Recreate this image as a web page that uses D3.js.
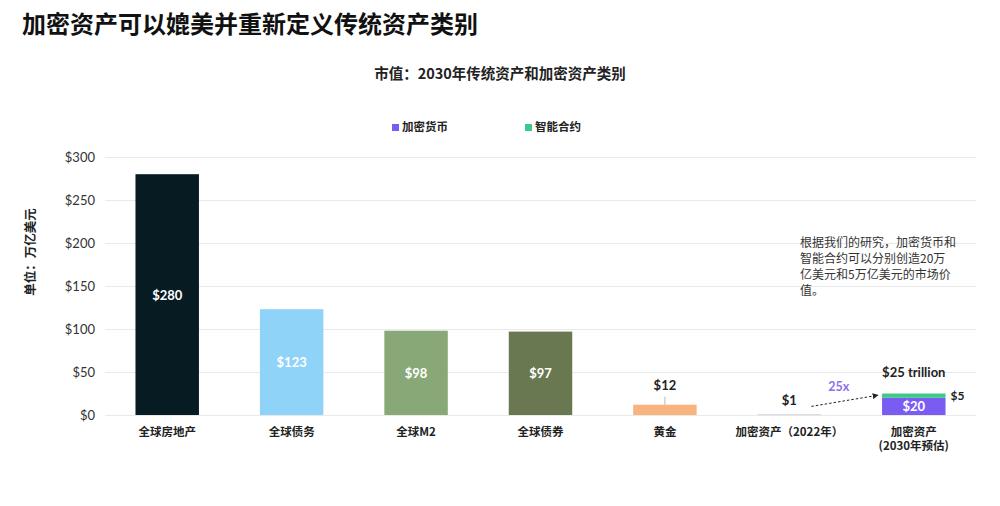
<!DOCTYPE html>
<html><head><meta charset="utf-8">
<script src="https://cdn.jsdelivr.net/npm/d3@7"></script>
<style>
body{margin:0;background:#fff;}
svg{display:block;font-family:"Noto Sans CJK SC","Noto Sans",sans-serif;}
</style></head>
<body><svg id="c" width="1000" height="506"></svg>
<script>
const categories = ["全球房地产","全球债务","全球M2","全球债券","黄金","加密资产（2022年）","加密资产|(2030年预估)"];
const values = [280,123,98,97,12,1,null];
const cryptoValues = [20];
const smartValues = [5];
const barColors = ["#061b22","#8fd3f9","#89a878","#6a7852","#f8b37f","#d6d6e0","#7b5cf2"];
const yTicks = [0,50,100,150,200,250,300];
const seriesNames = ["加密货币","智能合约"];
const seriesColors = ["#7b5cf2","#3ec98b"];

const svg = d3.select("#c");
const L=105,R=976,T=157,B=415;
const x = d3.scaleBand().domain(categories).range([L,R]).paddingInner(0.49).paddingOuter(0.245);
const y = d3.scaleLinear().domain([0,300]).range([B,T]);

// title
svg.append("text").attr("x",22).attr("y",33).attr("font-size",24).attr("font-weight",700).attr("fill","#111")
  .text("加密资产可以媲美并重新定义传统资产类别");
svg.append("text").attr("x",500).attr("y",79).attr("text-anchor","middle").attr("font-size",14.5).attr("font-weight",700).attr("fill","#222")
  .text("市值：2030年传统资产和加密资产类别");

// legend
const lg=[{x:392},{x:525}];
seriesNames.forEach((n,i)=>{
  svg.append("rect").attr("x",lg[i].x).attr("y",124).attr("width",7).attr("height",7).attr("fill",seriesColors[i]);
  svg.append("text").attr("x",lg[i].x+10).attr("y",131).attr("font-size",11.5).attr("font-weight",700).attr("fill","#222").text(n);
});

// grid
const ax = svg.append("g").attr("transform",`translate(${L},0)`)
  .call(d3.axisLeft(y).tickValues(yTicks).tickFormat(d=>"$"+d).tickSize(-(R-L)).tickPadding(10));
ax.select(".domain").remove();
ax.selectAll(".tick line").attr("stroke","#e9e9e9");
ax.selectAll(".tick text").attr("font-family","Lato,'Noto Sans',sans-serif").attr("font-size",13).attr("fill","#333");

// y title
svg.append("text").attr("transform","translate(35,252) rotate(-90)").attr("text-anchor","middle")
  .attr("font-size",12.5).attr("font-weight",700).attr("fill","#222").text("单位：万亿美元");

// bars
categories.forEach((c,i)=>{
  if(values[i]===null) return;
  svg.append("rect").attr("x",x(c)).attr("y",y(values[i])).attr("width",x.bandwidth())
    .attr("height",Math.max(1,B-y(values[i]))).attr("fill",barColors[i]);
});
// inside labels
[0,1,2,3].forEach(i=>{
  const c=categories[i];
  svg.append("text").attr("x",x(c)+x.bandwidth()/2).attr("y",(y(values[i])+B)/2+5)
    .attr("text-anchor","middle").attr("font-family","Lato,'Noto Sans',sans-serif").attr("font-weight",700)
    .attr("font-size",13).attr("fill","#fff").text("$"+values[i]);
});
// gold label
{
  const c=categories[4], cx=x(c)+x.bandwidth()/2;
  svg.append("line").attr("x1",cx).attr("x2",cx).attr("y1",y(values[4])).attr("y2",y(values[4])-8).attr("stroke","#999").attr("stroke-width",0.7);
  svg.append("text").attr("x",cx).attr("y",y(values[4])-15).attr("text-anchor","middle")
    .attr("font-family","Lato,'Noto Sans',sans-serif").attr("font-weight",700).attr("font-size",13).attr("fill","#222").text("$"+values[4]);
}
// 2022 label
{
  const c=categories[5], cx=x(c)+x.bandwidth()/2;
  svg.append("text").attr("x",cx).attr("y",405).attr("text-anchor","middle")
    .attr("font-family","Lato,'Noto Sans',sans-serif").attr("font-weight",700).attr("font-size",13).attr("fill","#222").text("$"+values[5]);
}
// stacked 2030
{
  const c=categories[6], bx=x(c), bw=x.bandwidth(), cx=bx+bw/2;
  const stack=d3.stack().keys(["crypto","smart"])([{crypto:cryptoValues[0],smart:smartValues[0]}]);
  stack.forEach((s,k)=>{
    svg.append("rect").attr("x",bx).attr("y",y(s[0][1])).attr("width",bw).attr("height",y(s[0][0])-y(s[0][1])).attr("fill",seriesColors[k]);
  });
  svg.append("text").attr("x",cx).attr("y",(y(cryptoValues[0])+B)/2+5).attr("text-anchor","middle")
    .attr("font-family","Lato,'Noto Sans',sans-serif").attr("font-weight",700).attr("font-size",13).attr("fill","#fff").text("$"+cryptoValues[0]);
  svg.append("text").attr("x",bx+bw+5).attr("y",y(cryptoValues[0]+smartValues[0]/2)+4)
    .attr("font-family","Lato,'Noto Sans',sans-serif").attr("font-weight",700).attr("font-size",12).attr("fill","#222").text("$"+smartValues[0]);
  const tot=cryptoValues[0]+smartValues[0];
  svg.append("text").attr("x",cx).attr("y",y(tot)-17).attr("text-anchor","middle")
    .attr("font-family","Lato,'Noto Sans',sans-serif").attr("font-weight",700).attr("font-size",13).attr("fill","#222").text("$"+tot+" trillion");
  // arrow
  const c2=categories[5], x0=x(c2)+x.bandwidth()/2+22;
  const defs=svg.append("defs");
  defs.append("marker").attr("id","ah").attr("viewBox","0 0 10 10").attr("refX",9).attr("refY",5)
    .attr("markerWidth",6).attr("markerHeight",6).attr("orient","auto")
    .append("path").attr("d","M0,0L10,5L0,10z").attr("fill","#222");
  svg.append("line").attr("x1",x0).attr("y1",y(10)).attr("x2",bx-4).attr("y2",y(23))
    .attr("stroke","#222").attr("stroke-width",1).attr("stroke-dasharray","2.5,2").attr("marker-end","url(#ah)");
  svg.append("text").attr("x",(x0+bx)/2-8).attr("y",391).attr("text-anchor","middle")
    .attr("font-family","Lato,'Noto Sans',sans-serif").attr("font-weight",700).attr("font-size",12.5).attr("fill","#8a6ff0").text("25x");
}

// category labels
categories.forEach(c=>{
  const parts=c.split("|");
  const t=svg.append("text").attr("x",x(c)+x.bandwidth()/2).attr("y",436).attr("text-anchor","middle")
    .attr("font-size",11.5).attr("font-weight",700).attr("fill","#222");
  parts.forEach((p,j)=>t.append("tspan").attr("x",x(c)+x.bandwidth()/2).attr("dy",j?14:0).text(p));
});

// annotation
const note=["根据我们的研究，加密货币和","智能合约可以分别创造20万","亿美元和5万亿美元的市场价","值。"];
note.forEach((l,i)=>svg.append("text").attr("x",800).attr("y",247+i*16).attr("font-size",12).attr("fill","#333").text(l));
</script></body></html>
